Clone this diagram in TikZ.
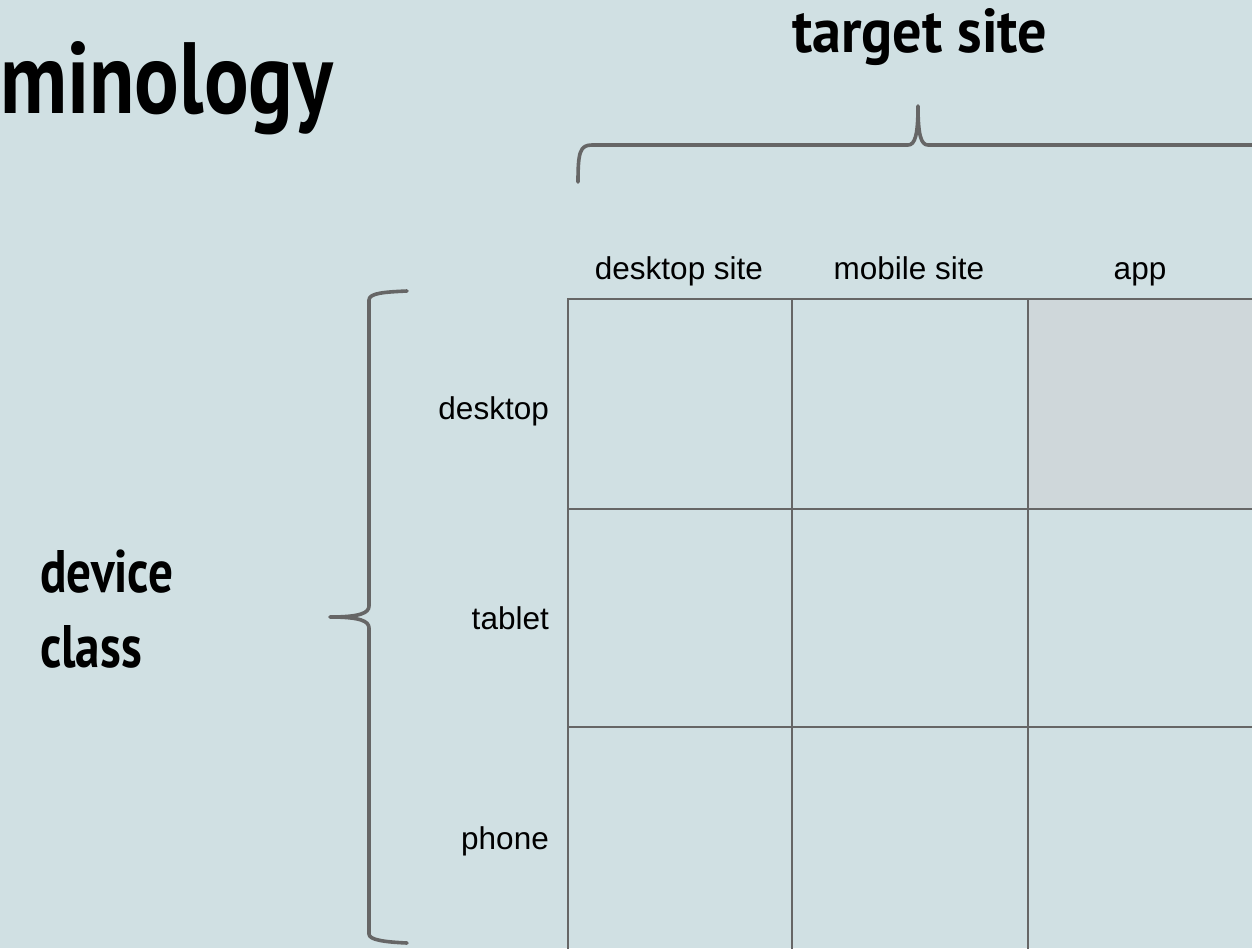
\documentclass[tikz,border=0pt]{standalone}
\usepackage{fontspec}
\usepackage{graphicx}
\setmainfont{Liberation Sans}
\newfontfamily\headfont{PT Sans}
\definecolor{slide}{HTML}{D0E0E3}
\definecolor{shade}{HTML}{CFD7DA}
\definecolor{rule}{HTML}{666666}
\newcommand{\narrowed}[1]{\scalebox{0.82}[1]{#1}}
\tikzset{
  cell/.style={draw=rule, line width=2pt, inner sep=0pt, anchor=north west},
  brace/.style={draw=rule, line width=3.6pt, line cap=round, line join=round},
  collabel/.style={font=\fontsize{31.5}{36}\selectfont, inner sep=0pt, anchor=base},
  rowlabel/.style={font=\fontsize{31.5}{36}\selectfont, inner sep=0pt, anchor=base east},
  heading/.style={font=\headfont\bfseries\fontsize{60}{75}\selectfont, inner sep=0pt},
}
\begin{document}
\begin{tikzpicture}[x=1pt, y=-1pt]
\useasboundingbox (0,0) rectangle (1252,948);
\fill[slide] (0,0) rectangle (1252,948);

\begin{scope}
\clip (0,0) rectangle (1252,948);
% matrix cells: three columns (desktop site, mobile site, app) by three rows
\node[cell, minimum width=224pt, minimum height=210pt] (c11) at (567,298) {};
\node[cell, minimum width=236pt, minimum height=210pt] (c12) at (791,298) {};
\node[cell, fill=shade, minimum width=240pt, minimum height=210pt] (c13) at (1027,298) {};
\node[cell, minimum width=224pt, minimum height=218pt] (c21) at (567,508) {};
\node[cell, minimum width=236pt, minimum height=218pt] (c22) at (791,508) {};
\node[cell, minimum width=240pt, minimum height=218pt] (c23) at (1027,508) {};
\node[cell, minimum width=224pt, minimum height=240pt] (c31) at (567,726) {};
\node[cell, minimum width=236pt, minimum height=240pt] (c32) at (791,726) {};
\node[cell, minimum width=240pt, minimum height=240pt] (c33) at (1027,726) {};

% curly bracket over the columns
\coordinate (tl) at (578,182);
\coordinate (tt) at (918,106);
\coordinate (tr) at (1262,145);
\draw[brace] (tl) .. controls (578,152) and (580,145) .. (592,145) -- (908,145)
  .. controls (915,145) and (918,135) .. (tt)
  .. controls (918,135) and (921,145) .. (928,145) -- (tr);
\end{scope}

% curly bracket beside the rows
\coordinate (lt) at (407,291);
\coordinate (lm) at (330,617);
\coordinate (lb) at (407,943);
\draw[brace] (lt) .. controls (385,292) and (369,293) .. (369,300) -- (369,606)
  .. controls (369,613) and (360,617) .. (lm)
  .. controls (360,617) and (369,621) .. (369,628) -- (369,934)
  .. controls (369,940) and (385,942) .. (lb);

% column headings
\node[collabel] (hdesk) at (679,279) {desktop site};
\node[collabel] (hmob) at (909,279) {mobile site};
\node[collabel] (happ) at (1140,279) {app};

% row headings
\node[rowlabel] (rdesk) at (549,419) {desktop};
\node[rowlabel] (rtab) at (549,629) {tablet};
\node[rowlabel] (rph) at (549,849) {phone};

% titles
\node[inner sep=0pt, anchor=base west] (title) at (0,113)
  {\resizebox{333pt}{72pt}{\headfont\bfseries minology}};
\node[inner sep=0pt, anchor=base west] (target) at (792,52)
  {\resizebox{255pt}{44pt}{\headfont\bfseries target site}};
\node[heading, anchor=west, align=left] (device) at (40,609)
  {\narrowed{device}\\\narrowed{class}};
\end{tikzpicture}
\end{document}
